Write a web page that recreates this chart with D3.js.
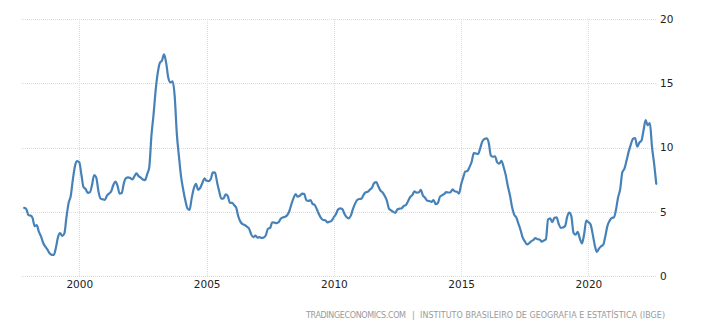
<!DOCTYPE html>
<html>
<head>
<meta charset="utf-8">
<script src="https://cdn.jsdelivr.net/npm/d3@7"></script>
<style>
  html, body { margin: 0; padding: 0; background: #fff; }
  svg { display: block; }
</style>
</head>
<body>
<svg id="chart" width="710" height="331"></svg>
<script>
// Brazil consumer price inflation (IPCA), year-on-year %, monthly from Nov 1997
const firstMonth = "1997-11";
const inflation = [
  5.30, 5.22,
  4.74, 4.70, 4.52, 3.87, 3.96, 3.43, 3.08, 2.57, 2.28, 2.06, 1.77, 1.65,
  1.64, 2.24, 3.02, 3.33, 3.12, 3.32, 4.57, 5.69, 6.25, 7.52, 8.58, 8.94,
  8.85, 7.86, 6.92, 6.77, 6.47, 6.51, 7.06, 7.86, 7.66, 6.61, 6.02, 5.97,
  5.92, 6.25, 6.41, 6.57, 7.04, 7.35, 7.06, 6.41, 6.46, 7.21, 7.61, 7.67,
  7.62, 7.51, 7.75, 7.98, 7.77, 7.66, 7.51, 7.46, 7.93, 8.45, 10.93, 12.53,
  14.47, 15.85, 16.57, 16.77, 17.24, 16.57, 15.43, 15.07, 15.14, 13.98, 11.02, 9.30,
  7.71, 6.69, 5.89, 5.26, 5.15, 6.06, 6.81, 7.18, 6.71, 6.86, 7.24, 7.60,
  7.41, 7.39, 7.54, 8.07, 8.05, 7.27, 6.57, 6.02, 6.04, 6.36, 6.22, 5.69,
  5.70, 5.51, 5.32, 4.63, 4.23, 4.03, 3.97, 3.84, 3.70, 3.26, 3.02, 3.14,
  2.99, 3.02, 2.96, 3.00, 3.18, 3.69, 3.74, 4.18, 4.15, 4.12, 4.19, 4.46,
  4.56, 4.61, 4.73, 5.04, 5.58, 6.06, 6.37, 6.17, 6.25, 6.41, 6.39, 5.90,
  5.84, 5.90, 5.61, 5.53, 5.20, 4.80, 4.50, 4.36, 4.34, 4.17, 4.22, 4.31,
  4.59, 4.83, 5.17, 5.26, 5.22, 4.84, 4.60, 4.49, 4.70, 5.20, 5.63, 5.91,
  5.99, 6.01, 6.30, 6.51, 6.55, 6.71, 6.87, 7.23, 7.31, 6.97, 6.64, 6.50,
  6.22, 5.85, 5.24, 5.10, 4.99, 4.92, 5.20, 5.24, 5.28, 5.45, 5.53, 5.84,
  6.15, 6.31, 6.59, 6.49, 6.50, 6.70, 6.27, 6.09, 5.86, 5.84, 5.77, 5.91,
  5.59, 5.68, 6.15, 6.28, 6.37, 6.52, 6.50, 6.51, 6.75, 6.59, 6.56, 6.41,
  7.14, 7.70, 8.13, 8.17, 8.47, 8.89, 9.56, 9.53, 9.49, 9.93, 10.48, 10.67,
  10.71, 10.36, 9.39, 9.28, 9.32, 8.84, 8.74, 8.97, 8.48, 7.87, 6.99, 6.29,
  5.35, 4.76, 4.57, 4.08, 3.60, 3.00, 2.71, 2.46, 2.54, 2.70, 2.80, 2.95,
  2.86, 2.84, 2.68, 2.76, 2.86, 4.39, 4.48, 4.19, 4.53, 4.56, 4.05, 3.75,
  3.78, 3.89, 4.58, 4.94, 4.66, 3.37, 3.22, 3.43, 2.89, 2.54, 3.27, 4.31,
  4.19, 4.01, 3.30, 2.40, 1.88, 2.13, 2.31, 2.44, 3.14, 3.92, 4.31, 4.52,
  4.56, 5.20, 6.10, 6.76, 8.06, 8.35, 8.99, 9.68, 10.25, 10.67, 10.74, 10.06,
  10.38, 10.54, 11.30, 12.13, 11.73, 11.89, 10.07, 8.73, 7.17
];
const yTicks = [0, 5, 10, 15, 20];
const xTickYears = [2000, 2005, 2010, 2015, 2020];
const sourceSite = "TRADINGECONOMICS.COM";
const sourceAgency = "INSTITUTO BRASILEIRO DE GEOGRAFIA E ESTATÍSTICA (IBGE)";

const parseMonth = d3.timeParse("%Y-%m");
const start = parseMonth(firstMonth);
const points = inflation.map((v, i) => ({ date: d3.timeMonth.offset(start, i), value: v }));

const svg = d3.select("#chart");
const plot = { left: 21, right: 657, top: 19, bottom: 276 };

const x = d3.scaleTime()
  .domain([d3.timeMonth.offset(start, -1), points[points.length - 1].date])
  .range([22, 656.3]);
const y = d3.scaleLinear().domain([0, 20]).range([plot.bottom, plot.top]);

// dotted grid
const grid = svg.append("g").attr("stroke", "#dcdcdc").attr("stroke-width", 1)
  .attr("stroke-dasharray", "1,1").attr("shape-rendering", "crispEdges");

grid.selectAll("line.h").data(yTicks).join("line")
  .attr("class", "h")
  .attr("x1", plot.left).attr("x2", plot.right)
  .attr("y1", d => Math.round(y(d)) + 0.5).attr("y2", d => Math.round(y(d)) + 0.5);

grid.selectAll("line.v").data(xTickYears).join("line")
  .attr("class", "v")
  .attr("x1", d => Math.round(x(new Date(d, 0, 1))) + 0.5)
  .attr("x2", d => Math.round(x(new Date(d, 0, 1))) + 0.5)
  .attr("y1", plot.top).attr("y2", plot.bottom);

const labelFont = g => g.selectAll("text")
  .attr("fill", "#222")
  .style("font-family", "'DejaVu Sans', Verdana, sans-serif")
  .style("font-size", "10.5px");

// right-hand value axis
svg.append("g")
  .attr("transform", "translate(660,0)")
  .call(d3.axisRight(y).tickValues(yTicks).tickSize(0).tickPadding(0))
  .call(g => g.select(".domain").remove())
  .call(labelFont);

// year axis
svg.append("g")
  .attr("transform", "translate(0,281)")
  .call(d3.axisBottom(x)
    .tickValues(xTickYears.map(yr => new Date(yr, 0, 1)))
    .tickFormat(d3.timeFormat("%Y"))
    .tickSize(0).tickPadding(0))
  .call(g => g.select(".domain").remove())
  .call(labelFont);

const line = d3.line()
  .x(d => x(d.date))
  .y(d => y(d.value))
  .curve(d3.curveMonotoneX);

svg.append("path")
  .datum(points)
  .attr("fill", "none")
  .attr("stroke", "#4682b8")
  .attr("stroke-width", 2.2)
  .attr("stroke-linejoin", "round")
  .attr("stroke-linecap", "round")
  .attr("d", line);

// source credit
const credit = svg.append("g")
  .attr("fill", "#9a9a9a")
  .style("font-family", "'DejaVu Sans', sans-serif")
  .style("font-size", "8px");
credit.append("text").attr("x", 306).attr("y", 318)
  .attr("textLength", 100).attr("lengthAdjust", "spacing").text(sourceSite);
credit.append("text").attr("x", 412).attr("y", 318).text("|");
credit.append("text").attr("x", 420).attr("y", 318)
  .attr("textLength", 245).attr("lengthAdjust", "spacing").text(sourceAgency);
</script>
</body>
</html>
